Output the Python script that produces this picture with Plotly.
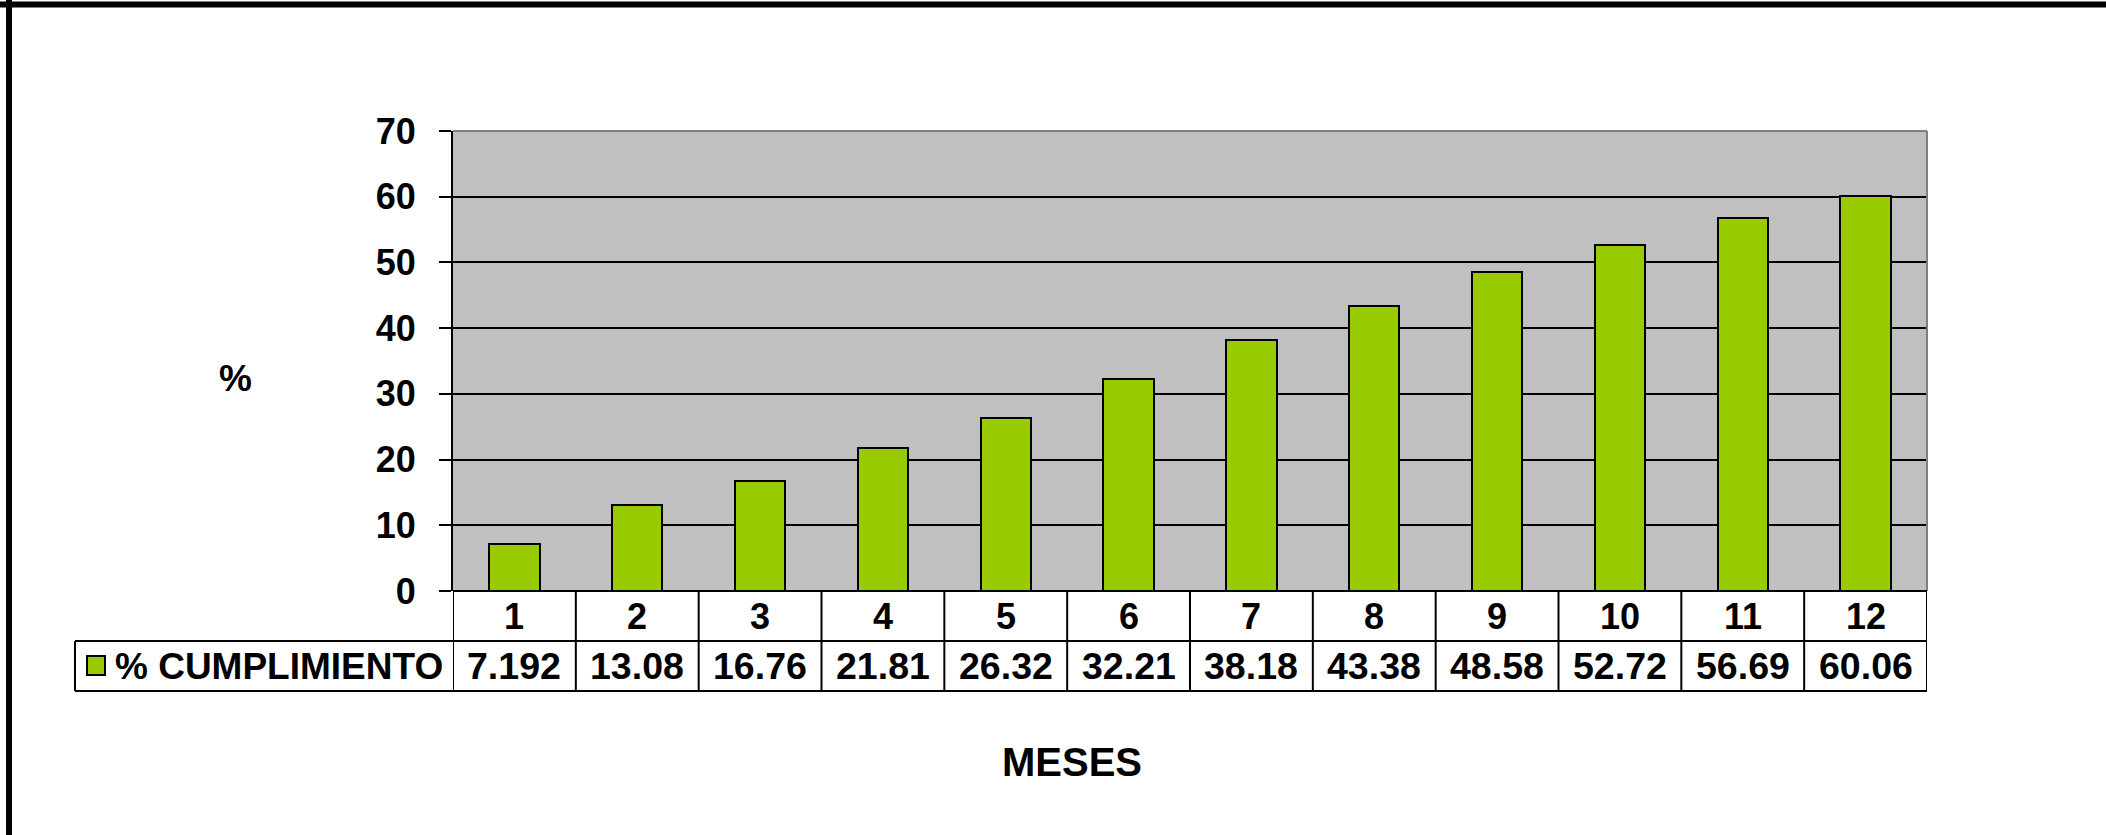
import plotly.graph_objects as go

# Monthly compliance data
meses = [1, 2, 3, 4, 5, 6, 7, 8, 9, 10, 11, 12]
cumplimiento = [7.192, 13.08, 16.76, 21.81, 26.32, 32.21, 38.18, 43.38, 48.58, 52.72, 56.69, 60.06]
serie_nombre = "% CUMPLIMIENTO"
y_ticks = [0, 10, 20, 30, 40, 50, 60, 70]

W, H = 2106, 835
FONT = "Arial, Liberation Sans, sans-serif"
GREEN = "#99CC00"


def px(x):
    return x / W


def py(y):
    return 1 - y / H


# plot area in page pixels
PL, PR, PT, PB = 453, 1927, 131, 591
ROW1, ROW2 = 641, 691
LEG_L = 75

fig = go.Figure()
fig.add_trace(go.Bar(
    x=meses, y=cumplimiento, name=serie_nombre, width=0.41,
    marker=dict(color=GREEN, line=dict(color="black", width=2)),
    showlegend=False,
))

shapes = []
# plot frame: grey top and right edges
shapes.append(dict(type="line", xref="paper", yref="paper", x0=px(PL), x1=px(PR), y0=py(PT), y1=py(PT),
                   line=dict(color="#808080", width=2)))
shapes.append(dict(type="line", xref="paper", yref="paper", x0=px(PR), x1=px(PR), y0=py(PT), y1=py(PB),
                   line=dict(color="#808080", width=2)))

# data table below the plot
n = len(meses)
for i in range(n + 1):
    shapes.append(dict(type="line", xref="x", yref="paper", x0=0.5 + i, x1=0.5 + i,
                       y0=py(PB), y1=py(ROW2), line=dict(color="black", width=2)))
shapes.append(dict(type="line", xref="x", yref="paper", x0=0.5, x1=n + 0.5, y0=py(PB), y1=py(PB),
                   line=dict(color="black", width=2)))
for yy in (ROW1, ROW2):
    shapes.append(dict(type="line", xref="x", yref="paper", x0=0.5, x1=n + 0.5, y0=py(yy), y1=py(yy),
                       line=dict(color="black", width=2)))
    shapes.append(dict(type="line", xref="paper", yref="paper", x0=px(LEG_L), x1=px(PL), y0=py(yy), y1=py(yy),
                       line=dict(color="black", width=2)))
shapes.append(dict(type="line", xref="paper", yref="paper", x0=px(LEG_L), x1=px(LEG_L), y0=py(ROW1), y1=py(ROW2),
                   line=dict(color="black", width=2)))
# legend key
shapes.append(dict(type="rect", xref="paper", yref="paper", x0=px(87), x1=px(105), y0=py(675), y1=py(656),
                   fillcolor=GREEN, line=dict(color="black", width=2)))

# outer frame (top and left)
shapes.append(dict(type="line", xref="paper", yref="paper", x0=0, x1=1, y0=py(4.5), y1=py(4.5),
                   line=dict(color="black", width=6)))
shapes.append(dict(type="line", xref="paper", yref="paper", x0=px(9), x1=px(9), y0=py(0), y1=0,
                   line=dict(color="black", width=6)))

annotations = []
for m, v in zip(meses, cumplimiento):
    annotations.append(dict(x=m, xref="x", y=py((PB + ROW1) / 2), yref="paper", text=f"<b>{m}</b>",
                            showarrow=False, xanchor="center", yanchor="middle",
                            font=dict(family=FONT, size=36, color="black")))
    annotations.append(dict(x=m, xref="x", y=py((ROW1 + ROW2) / 2), yref="paper", text=f"<b>{v:.4g}</b>",
                            showarrow=False, xanchor="center", yanchor="middle",
                            font=dict(family=FONT, size=37.5, color="black")))
annotations.append(dict(x=px(113), xref="paper", y=py((ROW1 + ROW2) / 2), yref="paper",
                        text=f"<b>{serie_nombre}</b>", showarrow=False, xanchor="left", yanchor="middle",
                        font=dict(family=FONT, size=37, color="black")))
annotations.append(dict(x=px(235), xref="paper", y=py(378), yref="paper", text="<b>%</b>",
                        showarrow=False, xanchor="center", yanchor="middle",
                        font=dict(family=FONT, size=37, color="black")))
annotations.append(dict(x=px(1072), xref="paper", y=py(762), yref="paper", text="<b>MESES</b>",
                        showarrow=False, xanchor="center", yanchor="middle",
                        font=dict(family=FONT, size=40, color="black")))

fig.update_layout(
    width=W, height=H, autosize=False,
    margin=dict(l=0, r=0, t=0, b=0, pad=0, autoexpand=False),
    paper_bgcolor="white",
    plot_bgcolor="#C0C0C0",
    bargap=0,
    xaxis=dict(domain=[px(PL), px(PR)], range=[0.5, n + 0.5], showticklabels=False,
               showgrid=False, zeroline=False, showline=False, ticks="", automargin=False),
    yaxis=dict(domain=[py(PB), py(PT)], range=[0, 70], tickvals=y_ticks,
               ticktext=[f"<b>{t}</b>" for t in y_ticks],
               tickfont=dict(family=FONT, size=36, color="black"),
               ticks="outside", ticklen=12, tickwidth=2, tickcolor="black",
               ticklabelstandoff=16, automargin=False,
               showgrid=True, gridcolor="black", gridwidth=2,
               zeroline=False, showline=True, linecolor="black", linewidth=2),
    shapes=shapes,
    annotations=annotations,
)

fig.write_html("out.html", config={"responsive": False, "displayModeBar": False},
               post_script="document.body.style.margin='0';document.body.style.overflow='hidden';")
